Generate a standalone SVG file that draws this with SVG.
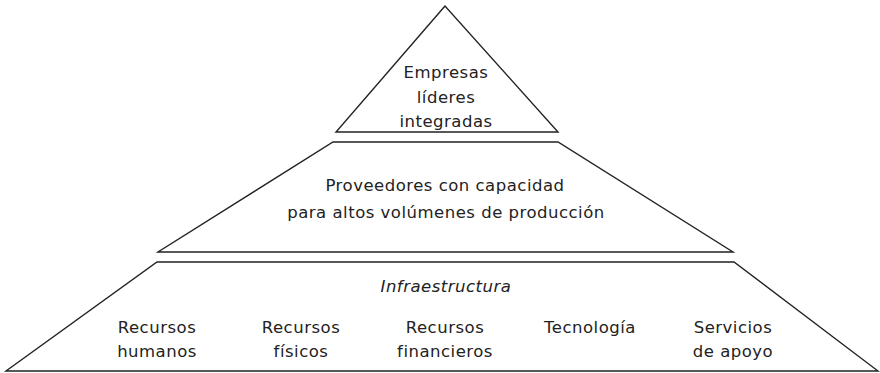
<svg xmlns="http://www.w3.org/2000/svg" width="880" height="373" viewBox="0 0 880 373">
<style>
.shape{fill:#fff;stroke:#222;stroke-width:1.4;stroke-linejoin:miter}
.t{font-family:"DejaVu Sans","Noto Sans",sans-serif;font-size:16.5px;letter-spacing:0.5px;fill:#222;text-anchor:middle}
.i{font-style:italic}
</style>
<rect width="880" height="373" fill="#fff"/>
<g id="top">
<polygon class="shape" points="445,6 336,132 558,132"/>
<text class="t" x="446" y="78">Empresas</text>
<text class="t" x="446" y="103">líderes</text>
<text class="t" x="446" y="127">integradas</text>
</g>
<g id="middle">
<polygon class="shape" points="333,142 558,142 733,252 158,252"/>
<text class="t" x="445" y="191">Proveedores con capacidad</text>
<text class="t" x="446" y="218">para altos volúmenes de producción</text>
</g>
<g id="bottom">
<polygon class="shape" points="157,262 734,262 878,371 6,371"/>
<text class="t i" x="446" y="292">Infraestructura</text>
<text class="t" x="157" y="333">Recursos</text>
<text class="t" x="157" y="357">humanos</text>
<text class="t" x="301" y="333">Recursos</text>
<text class="t" x="301" y="357">físicos</text>
<text class="t" x="445" y="333">Recursos</text>
<text class="t" x="445" y="357">financieros</text>
<text class="t" x="590" y="333">Tecnología</text>
<text class="t" x="733" y="333">Servicios</text>
<text class="t" x="733" y="357">de apoyo</text>
</g>
<g id="connectors"></g>
</svg>
